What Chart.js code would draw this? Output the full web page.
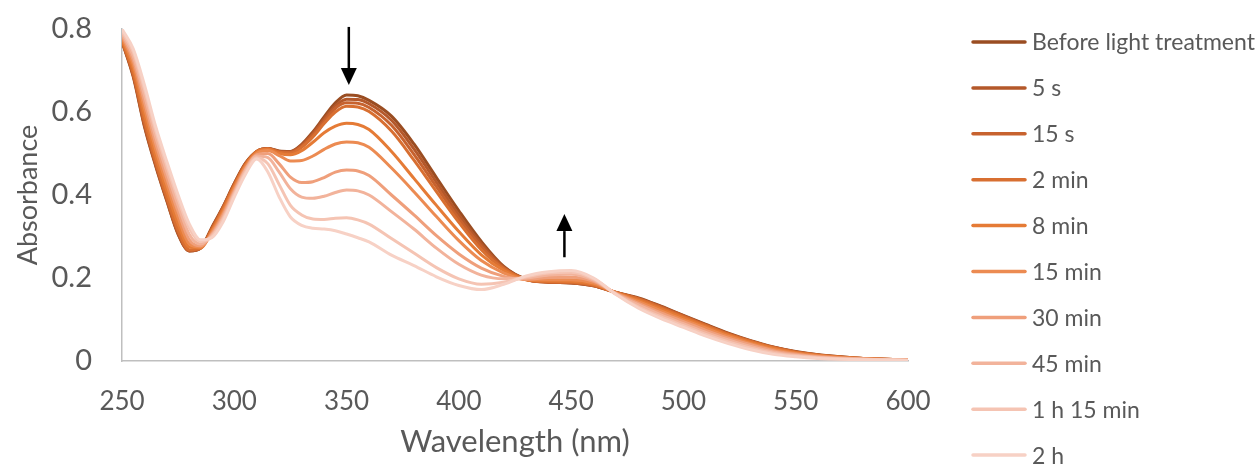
<!DOCTYPE html>
<html>
<head>
<meta charset="utf-8">
<script src="https://cdn.jsdelivr.net/npm/chart.js@4/dist/chart.umd.min.js"></script>
<style>
  html, body { margin: 0; padding: 0; background: #fff; }
  #wrap { width: 1259px; height: 464px; }
</style>
</head>
<body>
<div id="wrap"><canvas id="chart" width="1259" height="464"></canvas></div>
<script>
// wavelengths (nm)
const wavelengths = [250, 255, 260, 265, 270, 275, 280, 285, 290, 295, 300, 305, 310, 315, 320, 325, 330, 335, 340, 345, 350, 355, 360,
  370, 380, 390, 400, 410, 420, 430, 440, 450, 460, 470, 480, 490, 500, 510, 520, 530, 540, 550, 560, 570, 580, 600];

const seriesLabels = ['Before light treatment', '5 s', '15 s', '2 min', '8 min', '15 min', '30 min', '45 min', '1 h 15 min', '2 h'];
const seriesColors = ['#9a4d22', '#b4582a', '#c7622e', '#d86f31', '#e57b36', '#ec8b52', '#ef9f7b', '#f2b39b', '#f5c4b3', '#f7d1c5'];

const beforeLight = [0.770, 0.685, 0.565, 0.470, 0.385, 0.305, 0.265, 0.272, 0.322, 0.372, 0.428, 0.477, 0.505, 0.512, 0.506, 0.505, 0.522, 0.552, 0.588, 0.622, 0.641, 0.639, 0.628,
  0.590, 0.523, 0.442, 0.362, 0.288, 0.228, 0.197, 0.190, 0.188, 0.181, 0.165, 0.152, 0.132, 0.110, 0.088, 0.067, 0.049, 0.034, 0.023, 0.015, 0.010, 0.006, 0.003];
const after5s = [0.770, 0.688, 0.568, 0.473, 0.387, 0.307, 0.265, 0.272, 0.320, 0.371, 0.427, 0.476, 0.505, 0.512, 0.505, 0.504, 0.520, 0.549, 0.583, 0.615, 0.631, 0.630, 0.620,
  0.580, 0.511, 0.431, 0.352, 0.282, 0.226, 0.197, 0.190, 0.188, 0.181, 0.165, 0.151, 0.131, 0.109, 0.087, 0.066, 0.048, 0.033, 0.022, 0.015, 0.010, 0.006, 0.003];
const after15s = [0.771, 0.690, 0.572, 0.476, 0.390, 0.310, 0.266, 0.272, 0.318, 0.369, 0.425, 0.475, 0.505, 0.512, 0.504, 0.503, 0.518, 0.545, 0.578, 0.609, 0.622, 0.621, 0.611,
  0.568, 0.498, 0.420, 0.343, 0.276, 0.224, 0.196, 0.190, 0.189, 0.182, 0.165, 0.150, 0.130, 0.108, 0.086, 0.065, 0.048, 0.033, 0.022, 0.014, 0.009, 0.006, 0.003];
const after2min = [0.772, 0.695, 0.580, 0.482, 0.395, 0.315, 0.268, 0.272, 0.316, 0.367, 0.423, 0.473, 0.505, 0.511, 0.503, 0.501, 0.515, 0.540, 0.572, 0.600, 0.614, 0.612, 0.601,
  0.554, 0.484, 0.408, 0.334, 0.268, 0.222, 0.196, 0.191, 0.190, 0.183, 0.165, 0.149, 0.128, 0.106, 0.085, 0.064, 0.047, 0.032, 0.021, 0.014, 0.009, 0.006, 0.003];
const after8min = [0.775, 0.705, 0.595, 0.495, 0.410, 0.330, 0.275, 0.273, 0.313, 0.362, 0.420, 0.471, 0.503, 0.510, 0.500, 0.497, 0.507, 0.527, 0.550, 0.566, 0.573, 0.570, 0.558,
  0.505, 0.440, 0.375, 0.312, 0.256, 0.218, 0.196, 0.193, 0.192, 0.185, 0.164, 0.146, 0.125, 0.103, 0.082, 0.062, 0.045, 0.031, 0.020, 0.013, 0.009, 0.006, 0.003];
const after15min = [0.780, 0.715, 0.610, 0.510, 0.425, 0.345, 0.282, 0.275, 0.310, 0.357, 0.415, 0.468, 0.500, 0.507, 0.495, 0.482, 0.483, 0.494, 0.510, 0.523, 0.528, 0.526, 0.515,
  0.465, 0.408, 0.348, 0.290, 0.242, 0.212, 0.196, 0.196, 0.196, 0.188, 0.164, 0.143, 0.121, 0.099, 0.079, 0.059, 0.042, 0.028, 0.018, 0.012, 0.008, 0.005, 0.003];
const after30min = [0.785, 0.725, 0.625, 0.525, 0.440, 0.360, 0.292, 0.278, 0.306, 0.352, 0.410, 0.463, 0.497, 0.500, 0.475, 0.443, 0.430, 0.432, 0.442, 0.455, 0.460, 0.458, 0.447,
  0.400, 0.352, 0.302, 0.258, 0.224, 0.204, 0.197, 0.201, 0.202, 0.192, 0.163, 0.139, 0.116, 0.095, 0.074, 0.055, 0.039, 0.025, 0.016, 0.010, 0.007, 0.005, 0.002];
const after45min = [0.790, 0.735, 0.640, 0.540, 0.455, 0.375, 0.305, 0.282, 0.303, 0.346, 0.405, 0.460, 0.494, 0.490, 0.455, 0.415, 0.395, 0.392, 0.397, 0.406, 0.412, 0.410, 0.400,
  0.360, 0.318, 0.272, 0.233, 0.207, 0.198, 0.200, 0.207, 0.209, 0.195, 0.162, 0.135, 0.111, 0.090, 0.069, 0.051, 0.035, 0.022, 0.014, 0.009, 0.006, 0.004, 0.002];
const after1h15 = [0.795, 0.745, 0.655, 0.555, 0.470, 0.390, 0.320, 0.288, 0.300, 0.341, 0.400, 0.455, 0.490, 0.475, 0.425, 0.375, 0.352, 0.342, 0.341, 0.344, 0.345, 0.340, 0.330,
  0.295, 0.260, 0.225, 0.198, 0.185, 0.190, 0.203, 0.212, 0.214, 0.198, 0.161, 0.130, 0.106, 0.085, 0.064, 0.046, 0.031, 0.019, 0.012, 0.008, 0.005, 0.004, 0.002];
const after2h = [0.800, 0.752, 0.665, 0.565, 0.480, 0.400, 0.330, 0.292, 0.297, 0.335, 0.395, 0.450, 0.487, 0.455, 0.395, 0.347, 0.327, 0.320, 0.318, 0.314, 0.306, 0.297, 0.287,
  0.255, 0.230, 0.203, 0.182, 0.172, 0.185, 0.205, 0.215, 0.218, 0.200, 0.160, 0.127, 0.102, 0.081, 0.060, 0.042, 0.027, 0.016, 0.010, 0.006, 0.004, 0.003, 0.002];

const allSeries = [beforeLight, after5s, after15s, after2min, after8min, after15min, after30min, after45min, after1h15, after2h];

// arrows showing the direction of change: [wavelength, from, to]
const arrows = [
  [351, 0.805, 0.665],
  [447, 0.250, 0.354],
];

const textColor = '#595959';
const fontFamily = 'Lato, "Open Sans", sans-serif';

const datasets = allSeries.map((values, i) => ({
  label: seriesLabels[i],
  data: values.map((v, j) => ({ x: wavelengths[j], y: v })),
  borderColor: seriesColors[i],
  backgroundColor: seriesColors[i],
  borderWidth: 3,
  pointRadius: 0,
  cubicInterpolationMode: 'monotone',
  fill: false,
  order: allSeries.length - i, // later series painted on top, like the original
}));

const arrowPlugin = {
  id: 'arrows',
  afterDatasetsDraw(chart) {
    const { ctx, scales } = chart;
    ctx.save();
    ctx.fillStyle = '#000';
    ctx.strokeStyle = '#000';
    ctx.lineWidth = 2.5;
    arrows.forEach(([wl, from, to]) => {
      const x = scales.x.getPixelForValue(wl);
      const y0 = scales.y.getPixelForValue(from);
      const y1 = scales.y.getPixelForValue(to);
      const dir = y1 > y0 ? 1 : -1;
      const head = 17;
      ctx.beginPath();
      ctx.moveTo(x, y0);
      ctx.lineTo(x, y1 - dir * head);
      ctx.stroke();
      ctx.beginPath();
      ctx.moveTo(x, y1);
      ctx.lineTo(x - 8, y1 - dir * head);
      ctx.lineTo(x + 8, y1 - dir * head);
      ctx.closePath();
      ctx.fill();
    });
    ctx.restore();
  },
};

const legendPlugin = {
  id: 'sideLegend',
  afterDraw(chart) {
    const { ctx } = chart;
    ctx.save();
    ctx.font = '23px ' + fontFamily;
    ctx.textBaseline = 'middle';
    ctx.lineCap = 'round';
    chart.data.datasets.forEach((ds, i) => {
      const y = 42 + i * 45.9;
      ctx.strokeStyle = ds.borderColor;
      ctx.lineWidth = 3.5;
      ctx.beginPath();
      ctx.moveTo(973, y);
      ctx.lineTo(1025, y);
      ctx.stroke();
      ctx.fillStyle = textColor;
      ctx.fillText(ds.label, 1032, y + 1);
    });
    ctx.restore();
  },
};

new Chart(document.getElementById('chart'), {
  type: 'line',
  data: { datasets: datasets },
  options: {
    responsive: false,
    animation: false,
    devicePixelRatio: 1,
    layout: { padding: { left: 0, right: 351, top: 0, bottom: 0 } },
    plugins: {
      legend: { display: false },
      tooltip: { enabled: false },
    },
    scales: {
      x: {
        type: 'linear',
        min: 250,
        max: 600,
        ticks: { stepSize: 50, color: textColor, font: { family: fontFamily, size: 26 }, padding: 25 },
        grid: { display: false, drawTicks: false },
        border: { display: true, color: '#bfbfbf', width: 1.5 },
        title: { display: true, text: 'Wavelength (nm)', color: textColor, font: { family: fontFamily, size: 31, lineHeight: 1 }, padding: { top: 0, bottom: 7 } },
        afterFit(scale) {
          scale.height = 103;
          scale.paddingLeft = 0;
          scale.paddingRight = 0;
        },
      },
      y: {
        min: 0,
        max: 0.8,
        ticks: { stepSize: 0.2, color: textColor, font: { family: fontFamily, size: 29 }, padding: 30 },
        grid: { display: false, drawTicks: false },
        border: { display: true, color: '#bfbfbf', width: 1.5 },
        title: { display: true, text: 'Absorbance', color: textColor, font: { family: fontFamily, size: 27 }, padding: { top: 12, bottom: 0 } },
        afterFit(scale) {
          scale.width = 122;
          scale.paddingTop = 29;
          scale.paddingBottom = 0;
        },
      },
    },
  },
  plugins: [arrowPlugin, legendPlugin],
});
</script>
</body>
</html>
